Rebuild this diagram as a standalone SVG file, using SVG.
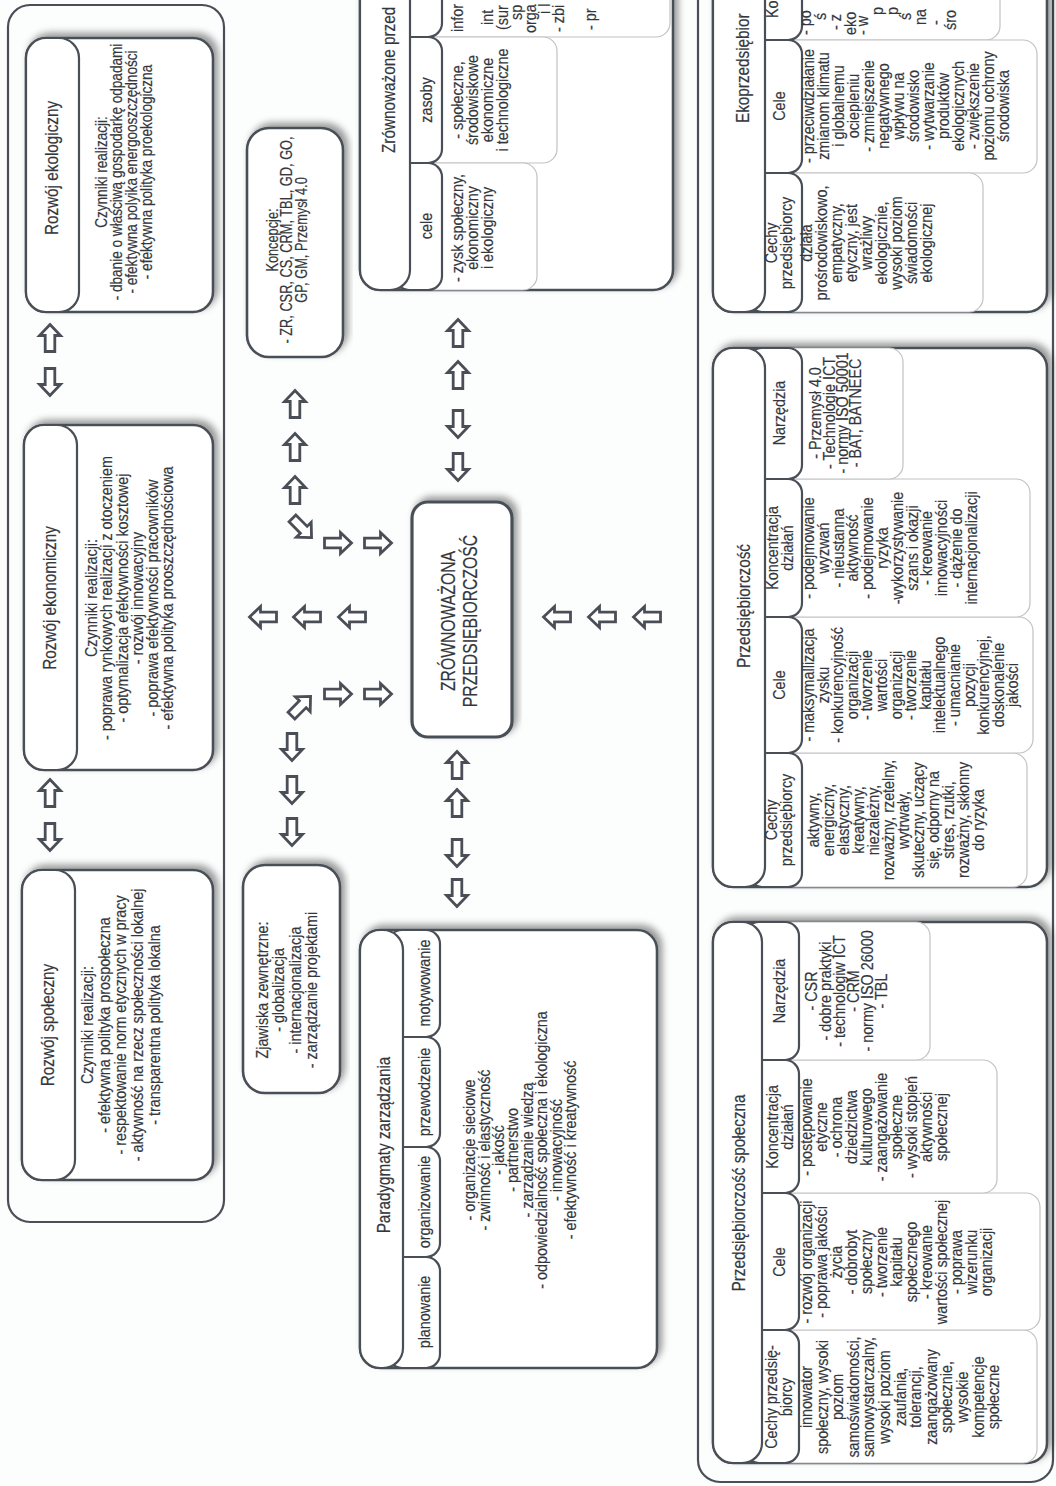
<svg xmlns="http://www.w3.org/2000/svg" xmlns:xlink="http://www.w3.org/1999/xlink" width="1056" height="1486" viewBox="0 0 1056 1486">
<style>
.t{font-family:"Liberation Sans",Arial,sans-serif;fill:#33373d;stroke:#33373d;stroke-width:0.2;text-anchor:middle}
.s{text-anchor:start}
.k{font-size:16px}.b{font-size:17px}.h{font-size:18px}.c{font-size:21px}
.box{fill:#fff;stroke:#4a4f57;stroke-width:2.6}
.tab{fill:#fff;stroke:#4a4f57;stroke-width:2.2}
.sub{fill:#fff;stroke:#c2c2c2;stroke-width:1.2}
.outer{fill:none;stroke:#4a4f57;stroke-width:2.2}
.arr{fill:#fff;stroke:#4a4f57;stroke-width:2.8;stroke-linejoin:miter}
</style>
<defs>
<filter id="sh" x="-10%" y="-10%" width="120%" height="120%">
<feDropShadow dx="4" dy="-4" stdDeviation="3.5" flood-color="#000" flood-opacity="0.4"/>
</filter>
<path id="ar" d="M0,-13.5 L10.5,-2.5 L4.8,-2.5 L4.8,13.5 L-4.8,13.5 L-4.8,-2.5 L-10.5,-2.5 Z"/>
</defs>
<rect x="0" y="0" width="1056" height="1486" fill="#fcfdfd"/>

<g id="top-container">
<rect class="outer" x="8" y="5" width="216" height="1217" rx="22"/>
</g>

<g id="rozwoj-spoleczny">
<rect class="box" filter="url(#sh)" x="22" y="870" width="191" height="310" rx="20"/>
<rect class="tab" x="22" y="870" width="53" height="310" rx="20"/>
<text class="t h" transform="translate(54,1025) rotate(-90) scale(0.85,1)">Rozwój społeczny</text>
<text class="t b" transform="translate(93,1025) rotate(-90) scale(0.845,1)"><tspan x="0">Czynniki realizacji:</tspan><tspan x="0" dy="16.7">- efektywna polityka prospołeczna</tspan><tspan x="0" dy="16.7">- respektowanie norm etycznych w pracy</tspan><tspan x="0" dy="16.7">- aktywność na rzecz społeczności lokalnej</tspan><tspan x="0" dy="16.7">- transparentna polityka lokalna</tspan></text>
</g>

<g id="rozwoj-ekonomiczny">
<rect class="box" filter="url(#sh)" x="24" y="425" width="189" height="345" rx="20"/>
<rect class="tab" x="24" y="425" width="53" height="345" rx="20"/>
<text class="t h" transform="translate(56,598) rotate(-90) scale(0.85,1)">Rozwój ekonomiczny</text>
<text class="t b" transform="translate(97,598) rotate(-90) scale(0.845,1)"><tspan x="0">Czynniki realizacji:</tspan><tspan x="0" dy="15.3">- poprawa rynkowych realizacji z otoczeniem</tspan><tspan x="0" dy="15.3">- optymalizacja efektywności kosztowej</tspan><tspan x="0" dy="15.3">- rozwój innowacyjny</tspan><tspan x="0" dy="15.3">- poprawa efektywności pracowników</tspan><tspan x="0" dy="15.3">- efektywna polityka prooszczędnościowa</tspan></text>
</g>

<g id="rozwoj-ekologiczny">
<rect class="box" filter="url(#sh)" x="26" y="38" width="187" height="274" rx="20"/>
<rect class="tab" x="26" y="38" width="53" height="274" rx="20"/>
<text class="t h" transform="translate(58,168) rotate(-90) scale(0.85,1)">Rozwój ekologiczny</text>
<text class="t b" transform="translate(107,172) rotate(-90) scale(0.8,1)"><tspan x="0">Czynniki realizacji:</tspan><tspan x="0" dy="15">- dbanie o właściwą gospodarkę odpadami</tspan><tspan x="0" dy="15">- efektywna polyika energooszczędności</tspan><tspan x="0" dy="15">- efektywna polityka proekologiczna</tspan></text>
</g>

<g id="koncepcje">
<rect class="box" filter="url(#sh)" x="247" y="128" width="96" height="229" rx="22"/>
<text class="t k" transform="translate(278,240) rotate(-90) scale(0.8,1)"><tspan x="0">Koncepcje:</tspan><tspan x="0" dy="14.5">- ZR, CSR, CS, CRM, TBL, GD, GO,</tspan><tspan x="0" dy="14.5">GP, GM, Przemysł 4.0</tspan></text>
</g>

<g id="zjawiska">
<rect class="box" filter="url(#sh)" x="243" y="865" width="97" height="228" rx="22"/>
<text class="t b" transform="translate(268,990) rotate(-90) scale(0.845,1)"><tspan x="0">Zjawiska zewnętrzne:</tspan><tspan x="0" dy="16.5">- globalizacja</tspan><tspan x="0" dy="16.5">- internacjonalizacja</tspan><tspan x="0" dy="16.5">- zarządzanie projektami</tspan></text>
</g>

<g id="zrownowazona-przedsiebiorczosc">
<rect class="box" filter="url(#sh)" x="412" y="502" width="100" height="235" rx="16" style="stroke-width:3.2"/>
<text class="t c" transform="translate(455,621) rotate(-90) scale(0.75,1)"><tspan x="0">ZRÓWNOWAŻONA</tspan><tspan x="0" dy="22">PRZEDSIĘBIORCZOŚĆ</tspan></text>
</g>

<g id="paradygmaty">
<rect class="box" filter="url(#sh)" x="360" y="930" width="297" height="438" rx="20"/>
<rect class="tab" x="388" y="930" width="52" height="107" rx="14"/>
<rect class="tab" x="388" y="1037" width="52" height="110" rx="14"/>
<rect class="tab" x="388" y="1147" width="52" height="110" rx="14"/>
<rect class="tab" x="388" y="1257" width="52" height="111" rx="14"/>
<rect class="tab" x="360" y="930" width="43" height="438" rx="20"/>
<text class="t h" transform="translate(390,1145) rotate(-90) scale(0.85,1)">Paradygmaty zarządzania</text>
<text class="t b" transform="translate(430,1312) rotate(-90) scale(0.845,1)">planowanie</text>
<text class="t b" transform="translate(430,1202) rotate(-90) scale(0.845,1)">organizowanie</text>
<text class="t b" transform="translate(430,1092) rotate(-90) scale(0.845,1)">przewodzenie</text>
<text class="t b" transform="translate(430,983) rotate(-90) scale(0.845,1)">motywowanie</text>
<text class="t b" transform="translate(475,1150) rotate(-90) scale(0.845,1)"><tspan x="0">- organizacje sieciowe</tspan><tspan x="0" dy="14.5">- zwinność i elastyczność</tspan><tspan x="0" dy="14.5">- jakość</tspan><tspan x="0" dy="14.5">- partnerstwo</tspan><tspan x="0" dy="14.5">- zarządzanie wiedzą</tspan><tspan x="0" dy="14.5">- odpowiedzialność społeczna i ekologiczna</tspan><tspan x="0" dy="14.5">- innowacyjność</tspan><tspan x="0" dy="14.5">- efektywność i kreatywność</tspan></text>
</g>

<g id="zrownowazone-przedsiebiorstwo">
<rect class="box" filter="url(#sh)" x="360" y="-40" width="313" height="330" rx="20"/>
<rect class="sub" x="405" y="-40" width="265" height="77" rx="14"/>
<rect class="sub" x="405" y="37" width="152" height="126" rx="14"/>
<rect class="sub" x="405" y="163" width="132" height="127" rx="14"/>
<rect class="tab" x="395" y="-40" width="47" height="77" rx="14"/>
<rect class="tab" x="395" y="37" width="47" height="126" rx="14"/>
<rect class="tab" x="395" y="163" width="47" height="127" rx="14"/>
<rect class="tab" x="360" y="-40" width="50" height="330" rx="20"/>
<text class="t h s" transform="translate(395,153) rotate(-90) scale(0.85,1)">Zrównoważone przed</text>
<text class="t b" transform="translate(432,226) rotate(-90) scale(0.845,1)">cele</text>
<text class="t b" transform="translate(432,100) rotate(-90) scale(0.845,1)">zasoby</text>
<text class="t b" transform="translate(463,228) rotate(-90) scale(0.845,1)"><tspan x="0">- zysk społeczny,</tspan><tspan x="0" dy="15">ekonomiczny</tspan><tspan x="0" dy="15">i ekologiczny</tspan></text>
<text class="t b" transform="translate(463,100) rotate(-90) scale(0.845,1)"><tspan x="0">- społeczne,</tspan><tspan x="0" dy="15">środowiskowe</tspan><tspan x="0" dy="15">ekonomiczne</tspan><tspan x="0" dy="15">i technologiczne</tspan></text>
<text class="t b s" transform="translate(463,32) rotate(-90) scale(0.845,1)">infor</text>
<text class="t b s" transform="translate(493,25) rotate(-90) scale(0.845,1)">int</text>
<text class="t b s" transform="translate(508,30) rotate(-90) scale(0.845,1)">(sur</text>
<text class="t b s" transform="translate(522,20) rotate(-90) scale(0.845,1)">sp</text>
<text class="t b s" transform="translate(536,33) rotate(-90) scale(0.845,1)">orga</text>
<text class="t b s" transform="translate(550,14) rotate(-90) scale(0.845,1)">i l</text>
<text class="t b s" transform="translate(564,32) rotate(-90) scale(0.845,1)">- zbi</text>
<text class="t b s" transform="translate(596,30) rotate(-90) scale(0.845,1)">- pr</text>
</g>

<g id="bottom-container">
<rect class="outer" x="698" y="-40" width="355" height="1522" rx="22"/>
</g>

<g id="przedsiebiorczosc-spoleczna">
<rect class="box" filter="url(#sh)" x="713" y="922" width="334" height="541" rx="20"/>
<rect class="sub" x="755" y="1330" width="282" height="133" rx="14"/>
<rect class="sub" x="755" y="1193" width="285" height="137" rx="14"/>
<rect class="sub" x="755" y="1060" width="242" height="133" rx="14"/>
<rect class="sub" x="755" y="922" width="175" height="138" rx="14"/>
<rect class="tab" x="745" y="1330" width="54" height="133" rx="14"/>
<rect class="tab" x="745" y="1193" width="54" height="137" rx="14"/>
<rect class="tab" x="745" y="1060" width="54" height="133" rx="14"/>
<rect class="tab" x="745" y="922" width="54" height="138" rx="14"/>
<rect class="tab" x="713" y="922" width="49" height="541" rx="20"/>
<text class="t h" transform="translate(745,1193) rotate(-90) scale(0.85,1)">Przedsiębiorczość społeczna</text>
<text class="t b" transform="translate(777,1397) rotate(-90) scale(0.845,1)"><tspan x="0">Cechy przedsię-</tspan><tspan x="0" dy="15">biorcy</tspan></text>
<text class="t b" transform="translate(785,1262) rotate(-90) scale(0.845,1)">Cele</text>
<text class="t b" transform="translate(778,1127) rotate(-90) scale(0.845,1)"><tspan x="0">Koncentracja</tspan><tspan x="0" dy="15">działań</tspan></text>
<text class="t b" transform="translate(785,991) rotate(-90) scale(0.845,1)">Narzędzia</text>
<text class="t b" transform="translate(812,1397) rotate(-90) scale(0.845,1)"><tspan x="0">innowator</tspan><tspan x="0" dy="15.6">społeczny, wysoki</tspan><tspan x="0" dy="15.6">poziom</tspan><tspan x="0" dy="15.6">samoświadomości,</tspan><tspan x="0" dy="15.6">samowystarczalny,</tspan><tspan x="0" dy="15.6">wysoki poziom</tspan><tspan x="0" dy="15.6">zaufania,</tspan><tspan x="0" dy="15.6">tolerancji,</tspan><tspan x="0" dy="15.6">zaangażowany</tspan><tspan x="0" dy="15.6">społecznie,</tspan><tspan x="0" dy="15.6">wysokie</tspan><tspan x="0" dy="15.6">kompetencje</tspan><tspan x="0" dy="15.6">społeczne</tspan></text>
<text class="t b" transform="translate(812,1262) rotate(-90) scale(0.845,1)"><tspan x="0">- rozwój organizacji</tspan><tspan x="0" dy="15">- poprawa jakości</tspan><tspan x="0" dy="15">życia</tspan><tspan x="0" dy="15">- dobrobyt</tspan><tspan x="0" dy="15">społeczny</tspan><tspan x="0" dy="15">- tworzenie</tspan><tspan x="0" dy="15">kapitału</tspan><tspan x="0" dy="15">społecznego</tspan><tspan x="0" dy="15">- kreowanie</tspan><tspan x="0" dy="15">wartości społecznej</tspan><tspan x="0" dy="15">- poprawa</tspan><tspan x="0" dy="15">wizerunku</tspan><tspan x="0" dy="15">organizacji</tspan></text>
<text class="t b" transform="translate(812,1127) rotate(-90) scale(0.845,1)"><tspan x="0">- postępowanie</tspan><tspan x="0" dy="15">etyczne</tspan><tspan x="0" dy="15">- ochrona</tspan><tspan x="0" dy="15">dziedzictwa</tspan><tspan x="0" dy="15">kulturowego</tspan><tspan x="0" dy="15">- zaangażowanie</tspan><tspan x="0" dy="15">społeczne</tspan><tspan x="0" dy="15">- wysoki stopień</tspan><tspan x="0" dy="15">aktywności</tspan><tspan x="0" dy="15">społecznej</tspan></text>
<text class="t b" transform="translate(817,991) rotate(-90) scale(0.845,1)"><tspan x="0">- CSR</tspan><tspan x="0" dy="14">- dobre praktyki</tspan><tspan x="0" dy="14">- technologiw ICT</tspan><tspan x="0" dy="14">- CRM</tspan><tspan x="0" dy="14">- normy ISO 26000</tspan><tspan x="0" dy="14">- TBL</tspan></text>
</g>

<g id="przedsiebiorczosc">
<rect class="box" filter="url(#sh)" x="713" y="348" width="334" height="539" rx="20"/>
<rect class="sub" x="758" y="753" width="269" height="134" rx="14"/>
<rect class="sub" x="758" y="617" width="275" height="136" rx="14"/>
<rect class="sub" x="758" y="479" width="272" height="138" rx="14"/>
<rect class="sub" x="758" y="348" width="145" height="131" rx="14"/>
<rect class="tab" x="748" y="753" width="54" height="134" rx="14"/>
<rect class="tab" x="748" y="617" width="54" height="136" rx="14"/>
<rect class="tab" x="748" y="479" width="54" height="138" rx="14"/>
<rect class="tab" x="748" y="348" width="54" height="131" rx="14"/>
<rect class="tab" x="713" y="348" width="52" height="539" rx="20"/>
<text class="t h" transform="translate(750,606) rotate(-90) scale(0.85,1)">Przedsiębiorczość</text>
<text class="t b" transform="translate(777,820) rotate(-90) scale(0.845,1)"><tspan x="0">Cechy</tspan><tspan x="0" dy="15">przedsiębiorcy</tspan></text>
<text class="t b" transform="translate(785,685) rotate(-90) scale(0.845,1)">Cele</text>
<text class="t b" transform="translate(778,548) rotate(-90) scale(0.845,1)"><tspan x="0">Koncentracja</tspan><tspan x="0" dy="15">działań</tspan></text>
<text class="t b" transform="translate(785,413) rotate(-90) scale(0.845,1)">Narzędzia</text>
<text class="t b" transform="translate(819,820) rotate(-90) scale(0.845,1)"><tspan x="0">aktywny,</tspan><tspan x="0" dy="15">energiczny,</tspan><tspan x="0" dy="15">elastyczny,</tspan><tspan x="0" dy="15">kreatywny,</tspan><tspan x="0" dy="15">niezależny,</tspan><tspan x="0" dy="15">rozważny, rzetelny,</tspan><tspan x="0" dy="15">wytrwały,</tspan><tspan x="0" dy="15">skuteczny, uczący</tspan><tspan x="0" dy="15">się, odporny na</tspan><tspan x="0" dy="15">stres, rzutki,</tspan><tspan x="0" dy="15">rozważny, skłonny</tspan><tspan x="0" dy="15">do ryzyka</tspan></text>
<text class="t b" transform="translate(814,685) rotate(-90) scale(0.845,1)"><tspan x="0">- maksymallizacja</tspan><tspan x="0" dy="14.6">zysku</tspan><tspan x="0" dy="14.6">- konkurencyjność</tspan><tspan x="0" dy="14.6">organizacji</tspan><tspan x="0" dy="14.6">- tworzenie</tspan><tspan x="0" dy="14.6">wartości</tspan><tspan x="0" dy="14.6">organizacji</tspan><tspan x="0" dy="14.6">- tworzenie</tspan><tspan x="0" dy="14.6">kapitału</tspan><tspan x="0" dy="14.6">intelektualnego</tspan><tspan x="0" dy="14.6">- umacnianie</tspan><tspan x="0" dy="14.6">pozycji</tspan><tspan x="0" dy="14.6">konkurencyjnej,</tspan><tspan x="0" dy="14.6">doskonalenie</tspan><tspan x="0" dy="14.6">jakości</tspan></text>
<text class="t b" transform="translate(814,548) rotate(-90) scale(0.845,1)"><tspan x="0">- podejmowanie</tspan><tspan x="0" dy="14.8">wyzwań</tspan><tspan x="0" dy="14.8">- nieustanna</tspan><tspan x="0" dy="14.8">aktywność</tspan><tspan x="0" dy="14.8">- podejmowanie</tspan><tspan x="0" dy="14.8">ryzyka</tspan><tspan x="0" dy="14.8">-wykorzystywanie</tspan><tspan x="0" dy="14.8">szans i okazji</tspan><tspan x="0" dy="14.8">- kreowanie</tspan><tspan x="0" dy="14.8">innowacyjności</tspan><tspan x="0" dy="14.8">- dążenie do</tspan><tspan x="0" dy="14.8">internacjonalizacji</tspan></text>
<text class="t b" transform="translate(821,413) rotate(-90) scale(0.845,1)"><tspan x="0">- Przemysł 4.0</tspan><tspan x="0" dy="13.5">- Technologie ICT</tspan><tspan x="0" dy="13.5">- normy ISO 50001</tspan><tspan x="0" dy="13.5">- BAT, BATNEEC</tspan></text>
</g>

<g id="ekoprzedsiebiorczosc">
<rect class="box" filter="url(#sh)" x="713" y="-40" width="334" height="352" rx="20"/>
<rect class="sub" x="758" y="-40" width="242" height="80" rx="14"/>
<rect class="sub" x="758" y="40" width="279" height="133" rx="14"/>
<rect class="sub" x="758" y="173" width="225" height="139" rx="14"/>
<rect class="tab" x="748" y="-40" width="54" height="80" rx="14"/>
<rect class="tab" x="748" y="40" width="54" height="133" rx="14"/>
<rect class="tab" x="748" y="173" width="54" height="139" rx="14"/>
<rect class="tab" x="713" y="-40" width="52" height="352" rx="20"/>
<text class="t h s" transform="translate(749,123) rotate(-90) scale(0.85,1)">Ekoprzedsiębior</text>
<text class="t b s" transform="translate(778,18) rotate(-90) scale(0.845,1)">Ko</text>
<text class="t b" transform="translate(777,243) rotate(-90) scale(0.845,1)"><tspan x="0">Cechy</tspan><tspan x="0" dy="15">przedsiębiorcy</tspan></text>
<text class="t b" transform="translate(785,106) rotate(-90) scale(0.845,1)">Cele</text>
<text class="t b" transform="translate(812,243) rotate(-90) scale(0.845,1)"><tspan x="0">działa</tspan><tspan x="0" dy="15">prośrodowiskowo,</tspan><tspan x="0" dy="15">empatyczny,</tspan><tspan x="0" dy="15">etyczny, jest</tspan><tspan x="0" dy="15">wrażliwy</tspan><tspan x="0" dy="15">ekologicznie,</tspan><tspan x="0" dy="15">wysoki poziom</tspan><tspan x="0" dy="15">świadomości</tspan><tspan x="0" dy="15">ekologicznej</tspan></text>
<text class="t b" transform="translate(814,106) rotate(-90) scale(0.845,1)"><tspan x="0">- przeciwdziałanie</tspan><tspan x="0" dy="15">zmianom klimatu</tspan><tspan x="0" dy="15">i globalnemu</tspan><tspan x="0" dy="15">ociepleniu</tspan><tspan x="0" dy="15">- zmniejszenie</tspan><tspan x="0" dy="15">negatywnego</tspan><tspan x="0" dy="15">wpływu na</tspan><tspan x="0" dy="15">środowisko</tspan><tspan x="0" dy="15">- wytwarzanie</tspan><tspan x="0" dy="15">produktów</tspan><tspan x="0" dy="15">ekologicznych</tspan><tspan x="0" dy="15">- zwiększenie</tspan><tspan x="0" dy="15">poziomu ochrony</tspan><tspan x="0" dy="15">środowiska</tspan></text>
<text class="t b s" transform="translate(811,35) rotate(-90) scale(0.845,1)">- po</text>
<text class="t b s" transform="translate(826,20) rotate(-90) scale(0.845,1)">ś</text>
<text class="t b s" transform="translate(841,30) rotate(-90) scale(0.845,1)">- z</text>
<text class="t b s" transform="translate(856,35) rotate(-90) scale(0.845,1)">eko</text>
<text class="t b s" transform="translate(868,35) rotate(-90) scale(0.845,1)">- w</text>
<text class="t b s" transform="translate(883,15) rotate(-90) scale(0.845,1)">p</text>
<text class="t b s" transform="translate(898,15) rotate(-90) scale(0.845,1)">p</text>
<text class="t b s" transform="translate(911,20) rotate(-90) scale(0.845,1)">ś</text>
<text class="t b s" transform="translate(926,25) rotate(-90) scale(0.845,1)">na</text>
<text class="t b s" transform="translate(941,25) rotate(-90) scale(0.845,1)">-</text>
<text class="t b s" transform="translate(956,30) rotate(-90) scale(0.845,1)">śro</text>
</g>

<g id="connectors">
<use href="#ar" class="arr" transform="translate(50,793) rotate(0)"/>
<use href="#ar" class="arr" transform="translate(50,837) rotate(180)"/>
<use href="#ar" class="arr" transform="translate(50,338) rotate(0)"/>
<use href="#ar" class="arr" transform="translate(50,382) rotate(180)"/>
<use href="#ar" class="arr" transform="translate(295,404) rotate(0)"/>
<use href="#ar" class="arr" transform="translate(295,447) rotate(0)"/>
<use href="#ar" class="arr" transform="translate(295,490) rotate(0)"/>
<use href="#ar" class="arr" transform="translate(302,528) rotate(135)"/>
<use href="#ar" class="arr" transform="translate(338,543) rotate(90)"/>
<use href="#ar" class="arr" transform="translate(378,543) rotate(90)"/>
<use href="#ar" class="arr" transform="translate(263,617) rotate(270)"/>
<use href="#ar" class="arr" transform="translate(307,617) rotate(270)"/>
<use href="#ar" class="arr" transform="translate(352,617) rotate(270)"/>
<use href="#ar" class="arr" transform="translate(338,694) rotate(90)"/>
<use href="#ar" class="arr" transform="translate(378,694) rotate(90)"/>
<use href="#ar" class="arr" transform="translate(301,706) rotate(45)"/>
<use href="#ar" class="arr" transform="translate(292,747) rotate(180)"/>
<use href="#ar" class="arr" transform="translate(292,790) rotate(180)"/>
<use href="#ar" class="arr" transform="translate(292,832) rotate(180)"/>
<use href="#ar" class="arr" transform="translate(458,333) rotate(0)"/>
<use href="#ar" class="arr" transform="translate(458,375) rotate(0)"/>
<use href="#ar" class="arr" transform="translate(458,424) rotate(180)"/>
<use href="#ar" class="arr" transform="translate(458,467) rotate(180)"/>
<use href="#ar" class="arr" transform="translate(457,765) rotate(0)"/>
<use href="#ar" class="arr" transform="translate(457,803) rotate(0)"/>
<use href="#ar" class="arr" transform="translate(457,853) rotate(180)"/>
<use href="#ar" class="arr" transform="translate(457,893) rotate(180)"/>
<use href="#ar" class="arr" transform="translate(557,617) rotate(270)"/>
<use href="#ar" class="arr" transform="translate(602,617) rotate(270)"/>
<use href="#ar" class="arr" transform="translate(647,617) rotate(270)"/>
</g>
</svg>
